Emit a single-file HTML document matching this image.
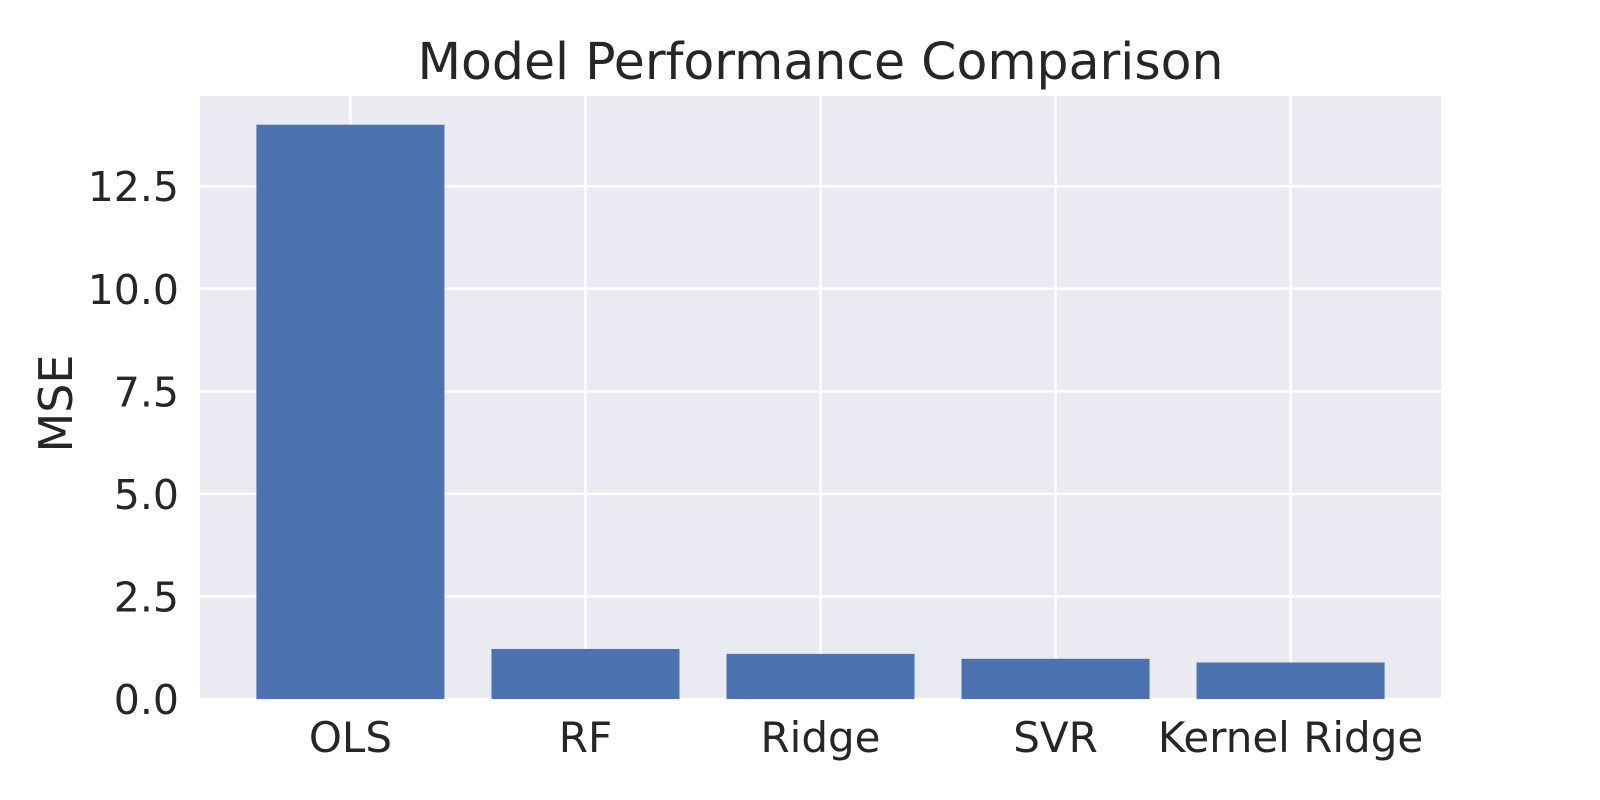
<!DOCTYPE html>
<html><head><meta charset="utf-8"><style>
body{margin:0;background:#fff;}
svg{display:block;font-family:"DejaVu Sans","Liberation Sans",sans-serif;}
</style></head><body>
<svg id="chart" width="1600" height="800"></svg>
<script>
const categories=["OLS","RF","Ridge","SVR","Kernel Ridge"];
const mseValues=[14.0,1.22,1.10,0.98,0.89];
const yTicks=[0,2.5,5,7.5,10,12.5];
const yTickLabels=["0.0","2.5","5.0","7.5","10.0","12.5"];
const NS="http://www.w3.org/2000/svg";
const svg=document.getElementById('chart');
const L=200,R=1441,T=96,B=699;
const xmin=-0.64,xmax=categories.length-1+0.64;
const ymax=Math.max(...mseValues)*1.05;
const xs=v=>L+(v-xmin)/(xmax-xmin)*(R-L);
const ys=v=>B-v/ymax*(B-T);
function el(t,a,txt){const e=document.createElementNS(NS,t);for(const k in a)e.setAttribute(k,a[k]);if(txt!=null)e.textContent=txt;svg.appendChild(e);return e;}
const bg=el('rect',{x:L,y:T,width:R-L,height:B-T,fill:'#eaeaf2'});


yTicks.forEach((t,i)=>{
 const g=el('line',{x1:L,x2:R,y1:ys(t),y2:ys(t),stroke:'#fff','stroke-width':2.5});
 
 
 const lb=el('text',{x:L-21,y:ys(t)+15,'text-anchor':'end','font-size':41,fill:'#262626'},yTickLabels[i]);
 
 
});
categories.forEach((c,i)=>{
 const g=el('line',{x1:xs(i),x2:xs(i),y1:T,y2:B,stroke:'#fff','stroke-width':2.5});
 
 
});
categories.forEach((c,i)=>{
 const w=(xs(0.8)-xs(0));
 const b=el('rect',{x:xs(i)-w/2,y:ys(mseValues[i]),width:w,height:B-ys(mseValues[i]),fill:'#4c72b0'});
 
 
 const lb=el('text',{x:xs(i),y:B+53,'text-anchor':'middle','font-size':42,fill:'#262626'},c);
 
 
});
const ttl=el('text',{x:(L+R)/2,y:79,'text-anchor':'middle','font-size':50.5,fill:'#262626'},'Model Performance Comparison');


const yl=el('text',{x:0,y:0,'text-anchor':'middle','font-size':46,fill:'#262626',transform:`translate(72,${(T+B)/2+6}) rotate(-90)`},'MSE');


</script>
</body></html>
